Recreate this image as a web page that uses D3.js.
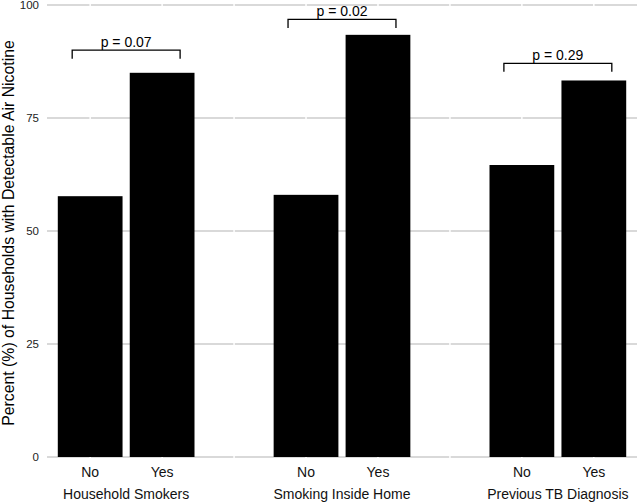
<!DOCTYPE html>
<html><head><meta charset="utf-8">
<script src="https://cdn.jsdelivr.net/npm/d3@7"></script>
<style>body{margin:0;background:#fff;} svg{display:block;}</style>
</head><body>
<svg id="chart" width="638" height="503"></svg>
<script>
const groups = ["Household Smokers", "Smoking Inside Home", "Previous TB Diagnosis"];
const levels = ["No", "Yes"];
const noValues = [57.7, 58.0, 64.6];
const yesValues = [85.0, 93.4, 83.3];
const pLabels = ["p = 0.07", "p = 0.02", "p = 0.29"];
const bracketHeights = [90.0, 96.8, 87.1];
const yTicks = [0, 25, 50, 75, 100];
const yTitle = "Percent (%) of Households with Detectable Air Nicotine";

const svg = d3.select("#chart");
const font = "'Liberation Sans', Arial, Helvetica, sans-serif";

// slots: each group's levels, with a blank spacer between groups
const slots = [];
groups.forEach((g, gi) => {
  levels.forEach(l => slots.push(g + "|" + l));
  if (gi < groups.length - 1) slots.push("gap" + gi);
});

const x = d3.scalePoint().domain(slots).range([47, 637]).padding(0.6);
const step = x.step();
const barW = step * 0.9;
const y = d3.scaleLinear().domain([0, 100]).range([457, 5]);

// horizontal grid
svg.append("g").selectAll("line").data(yTicks).join("line")
  .attr("x1", 47).attr("x2", 637)
  .attr("y1", d => y(d)).attr("y2", d => y(d))
  .attr("stroke", "#cccccc").attr("stroke-width", 1.3);
// vertical white grid
svg.append("g").selectAll("line").data(slots).join("line")
  .attr("x1", d => x(d)).attr("x2", d => x(d))
  .attr("y1", y(100) - 3).attr("y2", y(0) + 3)
  .attr("stroke", "#ffffff").attr("stroke-width", 1.5);

// bars
const bars = [];
groups.forEach((g, gi) => {
  bars.push({slot: g + "|No", v: noValues[gi]});
  bars.push({slot: g + "|Yes", v: yesValues[gi]});
});
svg.append("g").selectAll("rect").data(bars).join("rect")
  .attr("x", d => x(d.slot) - barW / 2)
  .attr("width", barW)
  .attr("y", d => y(d.v))
  .attr("height", d => y(0) - y(d.v))
  .attr("fill", "#000");

// y axis
const yAxis = d3.axisLeft(y).tickValues(yTicks).tickSize(0).tickPadding(8);
const ya = svg.append("g").attr("transform", "translate(47,0)").call(yAxis);
ya.select(".domain").remove();
ya.selectAll("text").attr("font-family", font).attr("font-size", 11.5).attr("fill", "#222");

// x level labels
svg.append("g").selectAll("text").data(bars).join("text")
  .attr("x", d => x(d.slot)).attr("y", 476.5)
  .attr("text-anchor", "middle").attr("font-family", font).attr("font-size", 14)
  .attr("fill", "#111").text(d => d.slot.split("|")[1]);

// group labels
svg.append("g").selectAll("text").data(groups).join("text")
  .attr("x", g => (x(g + "|No") + x(g + "|Yes")) / 2).attr("y", 499)
  .attr("text-anchor", "middle").attr("font-family", font).attr("font-size", 14)
  .attr("fill", "#111").text(g => g);

// brackets
groups.forEach((g, gi) => {
  const x1 = x(g + "|No") - step * 0.25;
  const x2 = x(g + "|Yes") + step * 0.25;
  const yt = y(bracketHeights[gi]);
  svg.append("path")
    .attr("d", `M${x1},${yt + 8.5}V${yt}H${x2}V${yt + 8.5}`)
    .attr("fill", "none").attr("stroke", "#000").attr("stroke-width", 1.3);
  svg.append("text")
    .attr("x", (x1 + x2) / 2).attr("y", yt - 3.5)
    .attr("text-anchor", "middle").attr("font-family", font).attr("font-size", 14)
    .attr("fill", "#000").text(pLabels[gi]);
});

// y title
svg.append("text")
  .attr("transform", `translate(13.5,${(y(0) + y(100)) / 2 + 2}) rotate(-90)`)
  .attr("text-anchor", "middle").attr("font-family", font).attr("font-size", 15.8)
  .attr("fill", "#000").text(yTitle);
</script>
</body></html>
